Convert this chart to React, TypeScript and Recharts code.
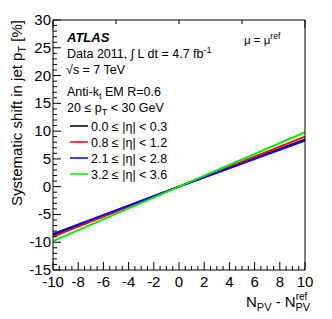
import React from 'react';
import { LineChart, Line, XAxis, YAxis } from 'recharts';

// N_PV - N_PV^ref
const npvDiff = [-10, 0, 10];
// systematic shift in jet pT [%] per |eta| bin
const shiftEta00 = [-8.7, 0, 8.5];
const shiftEta08 = [-9.0, 0, 9.0];
const shiftEta21 = [-8.5, 0, 8.3];
const shiftEta32 = [-9.8, 0, 9.8];

const seriesKeys = ['eta00', 'eta08', 'eta21', 'eta32'];
const seriesNames = ['0.0 \u2264 |\u03b7| < 0.3', '0.8 \u2264 |\u03b7| < 1.2', '2.1 \u2264 |\u03b7| < 2.8', '3.2 \u2264 |\u03b7| < 3.6'];
const seriesColors = ['#000000', '#ff0000', '#0000ff', '#00ee00'];

const xMajorTicks = [-10, -8, -6, -4, -2, 0, 2, 4, 6, 8, 10];
const yMajorTicks = [-15, -10, -5, 0, 5, 10, 15, 20, 25, 30];

// minor ticks: 4 per major on x, 5 per major on y
const xAllTicks = Array.from({ length: 41 }, (_, i) => -10 + i * 0.5);
const yAllTicks = Array.from({ length: 46 }, (_, i) => -15 + i);

const data = npvDiff.map((x, i) => ({
  x,
  eta00: shiftEta00[i],
  eta08: shiftEta08[i],
  eta21: shiftEta21[i],
  eta32: shiftEta32[i],
}));

const FONT = '"Liberation Sans", Arial, Helvetica, sans-serif';

const BottomTick = (props: any) => {
  const { x, y, payload } = props;
  const major = xMajorTicks.includes(payload.value);
  return (
    <g>
      <line x1={x} x2={x} y1={y} y2={y - (major ? 8 : 4)} stroke="#000" />
      {major && (
        <text x={x} y={y + 17} textAnchor="middle" fontSize={15} fontFamily={FONT} fill="#000">
          {payload.value}
        </text>
      )}
    </g>
  );
};

const TopTick = (props: any) => {
  const { x, y, payload } = props;
  const major = xMajorTicks.includes(payload.value);
  return <line x1={x} x2={x} y1={y} y2={y + (major ? 8 : 4)} stroke="#000" />;
};

const LeftTick = (props: any) => {
  const { x, y, payload } = props;
  const major = yMajorTicks.includes(payload.value);
  return (
    <g>
      <line x1={x} x2={x + (major ? 8 : 4)} y1={y} y2={y} stroke="#000" />
      {major && (
        <text x={x - 2} y={y + 5} textAnchor="end" fontSize={15} fontFamily={FONT} fill="#000">
          {payload.value}
        </text>
      )}
    </g>
  );
};

const RightTick = (props: any) => {
  const { x, y, payload } = props;
  const major = yMajorTicks.includes(payload.value);
  return <line x1={x} x2={x - (major ? 8 : 4)} y1={y} y2={y} stroke="#000" />;
};

const Labels = () => (
  <svg
    width={332}
    height={319}
    style={{ position: 'absolute', left: 0, top: 0, pointerEvents: 'none' }}
    fontFamily={FONT}
  >
    <text x={67} y={42} fontSize={13} fontWeight="bold" fontStyle="italic">ATLAS</text>
    <text x={67} y={58} fontSize={12.5}>
      Data 2011, {'\u222B'} L dt = 4.7 fb<tspan dy={-5} fontSize={9}>-1</tspan>
    </text>
    <text x={66} y={74} fontSize={12.5}>{'\u221A'}s = 7 TeV</text>
    <text x={67} y={96} fontSize={12.5}>
      Anti-k<tspan dy={3} fontSize={9}>t</tspan><tspan dy={-3}> EM R=0.6</tspan>
    </text>
    <text x={67} y={112} fontSize={12.5}>
      20 {'\u2264'} p<tspan dy={3} fontSize={9}>T</tspan><tspan dy={-3}> &lt; 30 GeV</tspan>
    </text>
    {seriesNames.map((name, i) => (
      <g key={name}>
        <line x1={70} x2={88} y1={126 + i * 16} y2={126 + i * 16} stroke={seriesColors[i]} strokeWidth={1.5} />
        <text x={91} y={130.5 + i * 16} fontSize={12.5}>{name}</text>
      </g>
    ))}
    <text x={244} y={44} fontSize={11.5}>
      {'\u03bc = \u03bc'}<tspan dy={-5} fontSize={8.5}>ref</tspan>
    </text>
    <text transform="translate(22,20) rotate(-90)" textAnchor="end" fontSize={15}>
      Systematic shift in jet p<tspan dy={4} fontSize={11}>T</tspan><tspan dy={-4}> [%]</tspan>
    </text>
    <text x={246} y={307} fontSize={15}>
      N<tspan dy={4} fontSize={11}>PV</tspan>
      <tspan dy={-4}> - N</tspan>
      <tspan dy={-7} fontSize={10}>ref</tspan>
      <tspan dy={11} dx={-12} fontSize={11}>PV</tspan>
    </text>
  </svg>
);

export default function App() {
  return (
    <div style={{ position: 'absolute', left: 0, top: 0, width: 332, height: 319, background: '#fff' }}>
      <LineChart width={332} height={319} data={data} margin={{ top: 0, right: 0, bottom: 0, left: 0 }}>
        <XAxis
          dataKey="x"
          type="number"
          domain={[-10, 10]}
          ticks={xAllTicks}
          interval={0}
          height={49}
          tickSize={0}
          tickMargin={0}
          tick={BottomTick}
          axisLine={{ stroke: '#000' }}
          tickLine={false}
        />
        <XAxis
          xAxisId="top"
          orientation="top"
          type="number"
          domain={[-10, 10]}
          ticks={xAllTicks}
          interval={0}
          height={20}
          tickSize={0}
          tickMargin={0}
          tick={TopTick}
          axisLine={{ stroke: '#000' }}
          tickLine={false}
        />
        <YAxis
          type="number"
          domain={[-15, 30]}
          ticks={yAllTicks}
          interval={0}
          width={53}
          tickSize={0}
          tickMargin={0}
          tick={LeftTick}
          axisLine={{ stroke: '#000' }}
          tickLine={false}
        />
        <YAxis
          yAxisId="right"
          orientation="right"
          type="number"
          domain={[-15, 30]}
          ticks={yAllTicks}
          interval={0}
          width={27}
          tickSize={0}
          tickMargin={0}
          tick={RightTick}
          axisLine={{ stroke: '#000' }}
          tickLine={false}
        />
        {seriesKeys.map((key, i) => (
          <Line
            key={key}
            dataKey={key}
            name={seriesNames[i]}
            stroke={seriesColors[i]}
            strokeWidth={2}
            dot={false}
            isAnimationActive={false}
          />
        ))}
      </LineChart>
      <Labels />
    </div>
  );
}
